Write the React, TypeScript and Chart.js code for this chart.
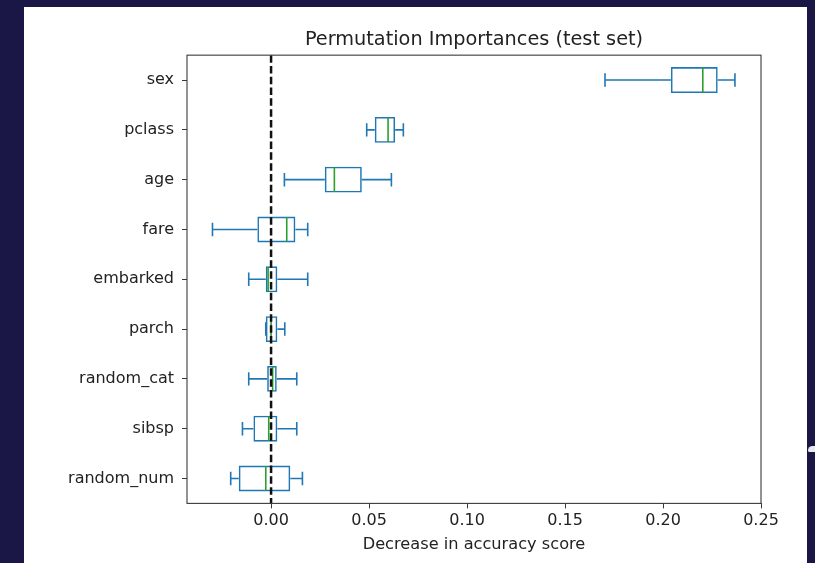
import React, { useEffect, useRef } from "react";
import { Chart, registerables } from "chart.js";

Chart.register(...registerables);

const CATEGORIES = ["sex", "pclass", "age", "fare", "embarked", "parch", "random_cat", "sibsp", "random_num"];
const WHISKER_LOW = [0.1704, 0.0488, 0.0068, -0.0299, -0.0114, -0.0027, -0.0114, -0.0146, -0.0206];
const Q1 = [0.204, 0.0529, 0.0274, -0.007, -0.0027, -0.0027, -0.002, -0.009, -0.0165];
const MEDIAN = [0.2203, 0.0597, 0.0323, 0.008, -0.0015, 0.0, 0.0008, -0.0012, -0.0027];
const Q3 = [0.2279, 0.0633, 0.0463, 0.0124, 0.0032, 0.0032, 0.0029, 0.0032, 0.0098];
const WHISKER_HIGH = [0.2367, 0.0675, 0.0614, 0.0187, 0.0187, 0.007, 0.0131, 0.0131, 0.016];
const X_TICKS = [0, 0.05, 0.1, 0.15, 0.2, 0.25];

const BLUE = "#1f77b4";
const GREEN = "#2ca02c";
const TEXT = "#222222";
const FRAME = "#3a3a3a";

const boxExtras = {
  id: "boxExtras",
  afterDatasetsDraw(chart: any) {
    const { ctx, chartArea } = chart;
    const x = chart.scales.x;
    const y = chart.scales.y;
    const step = Math.abs(y.getPixelForValue(1) - y.getPixelForValue(0));
    const cap = step * 0.135;
    const half = step * 0.26 - 0.75;
    ctx.save();
    ctx.lineCap = "butt";
    CATEGORIES.forEach((_, i) => {
      const py = y.getPixelForValue(i);
      const xl = x.getPixelForValue(WHISKER_LOW[i]);
      const x1 = x.getPixelForValue(Q1[i]);
      const x3 = x.getPixelForValue(Q3[i]);
      const xh = x.getPixelForValue(WHISKER_HIGH[i]);
      const xm = x.getPixelForValue(MEDIAN[i]);
      ctx.strokeStyle = BLUE;
      ctx.lineWidth = 1.6;
      ctx.beginPath();
      ctx.moveTo(xl, py);
      ctx.lineTo(x1, py);
      ctx.moveTo(x3, py);
      ctx.lineTo(xh, py);
      ctx.moveTo(xl, py - cap);
      ctx.lineTo(xl, py + cap);
      ctx.moveTo(xh, py - cap);
      ctx.lineTo(xh, py + cap);
      ctx.stroke();
      ctx.strokeStyle = GREEN;
      ctx.beginPath();
      ctx.moveTo(xm, py - half);
      ctx.lineTo(xm, py + half);
      ctx.stroke();
    });
    const x0 = x.getPixelForValue(0);
    ctx.strokeStyle = "#111111";
    ctx.lineWidth = 2.5;
    ctx.setLineDash([7.5, 3.3]);
    ctx.beginPath();
    ctx.moveTo(x0, chartArea.top);
    ctx.lineTo(x0, chartArea.bottom);
    ctx.stroke();
    ctx.setLineDash([]);
    ctx.strokeStyle = FRAME;
    ctx.lineWidth = 1.1;
    ctx.strokeRect(chartArea.left, chartArea.top, chartArea.right - chartArea.left, chartArea.bottom - chartArea.top);
    ctx.restore();
  },
};

export default function App() {
  const ref = useRef<HTMLCanvasElement | null>(null);
  useEffect(() => {
    if (!ref.current) return;
    Chart.defaults.font.family = "'DejaVu Sans', sans-serif";
    const chart = new Chart(ref.current, {
      type: "bar",
      data: {
        labels: CATEGORIES,
        datasets: [
          {
            data: CATEGORIES.map((_, i) => [Q1[i], Q3[i]]) as any,
            backgroundColor: "rgba(0,0,0,0)",
            borderColor: BLUE,
            borderWidth: 1.6,
            borderSkipped: false,
            barPercentage: 0.52,
            categoryPercentage: 1,
          },
        ],
      },
      options: {
        indexAxis: "y",
        responsive: false,
        animation: false,
        devicePixelRatio: 1,
        layout: { padding: { left: 0, right: 54, top: 0, bottom: 0 } },
        plugins: {
          legend: { display: false },
          tooltip: { enabled: false },
          title: {
            display: true,
            fullSize: false,
            text: "Permutation Importances (test set)",
            color: TEXT,
            font: { size: 19.3, weight: "normal" },
            padding: { top: 28, bottom: 4 },
          },
        },
        scales: {
          x: {
            type: "linear",
            min: -0.0429,
            max: 0.25,
            afterBuildTicks: (s: any) => {
              s.ticks = X_TICKS.map((v) => ({ value: v }));
            },
            afterFit: (s: any) => {
              s.height = 59.6;
            },
            ticks: {
              color: TEXT,
              font: { size: 16 },
              padding: 3,
              maxRotation: 0,
              autoSkip: false,
              callback: (v: any) => Number(v).toFixed(2),
            },
            grid: { drawOnChartArea: false, drawTicks: true, tickLength: 5, color: FRAME },
            border: { display: false },
            title: {
              display: true,
              text: "Decrease in accuracy score",
              color: TEXT,
              font: { size: 16.2 },
              padding: { top: 0, bottom: 8.5 },
            },
          },
          y: {
            type: "category",
            afterFit: (s: any) => {
              s.width = 187;
            },
            ticks: { color: TEXT, font: { size: 16 }, padding: 8, autoSkip: false },
            grid: { drawOnChartArea: false, drawTicks: true, tickLength: 5, color: FRAME, offset: false },
            border: { display: false },
          },
        },
      },
      plugins: [boxExtras],
    } as any);
    return () => chart.destroy();
  }, []);

  return (
    <div style={{ position: "fixed", left: 0, top: 0, width: 815, height: 563, background: "#1a1746", overflow: "hidden" }}>
      <div style={{ position: "absolute", left: 24, top: 7, width: 783, height: 556, background: "#ffffff" }} />
      <div style={{ position: "absolute", left: 808, top: 446, width: 10, height: 6, background: "#e8e8ee", borderRadius: "6px 0 0 2px" }} />
      <canvas ref={ref} width={815} height={563} style={{ position: "absolute", left: 0, top: 0, width: 815, height: 563 }} />
    </div>
  );
}
